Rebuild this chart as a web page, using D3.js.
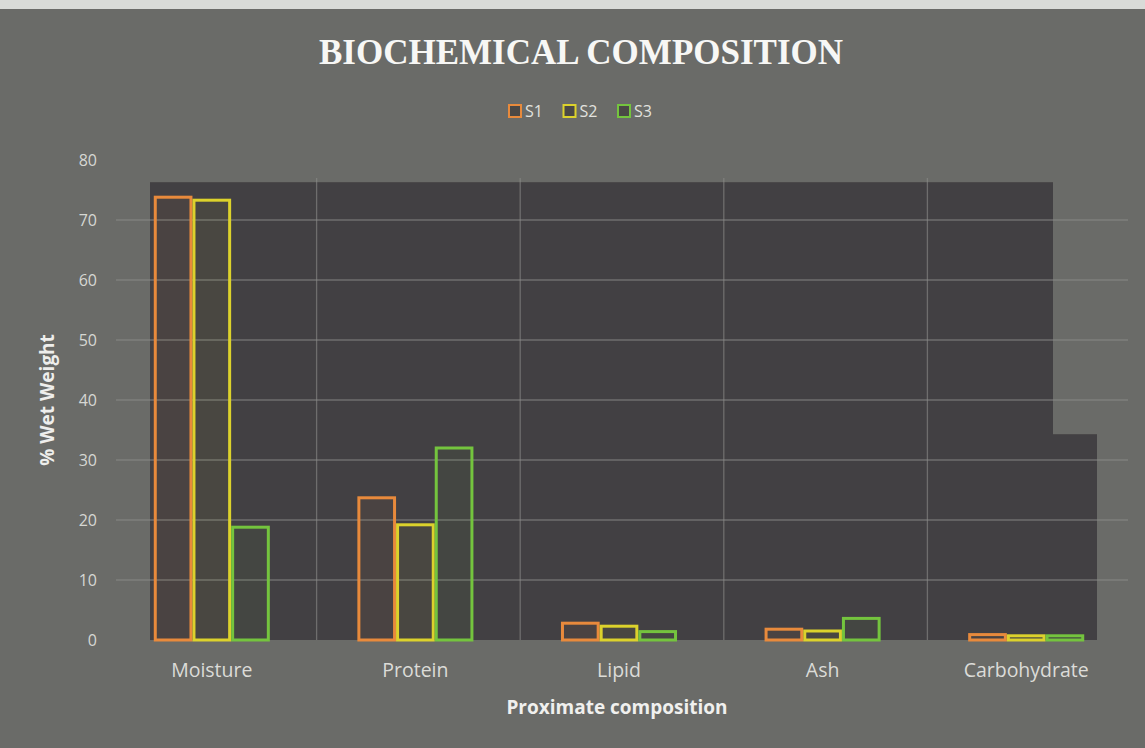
<!doctype html>
<html lang="en">
  <head>
    <meta charset="utf-8" />
    <title>Biochemical Composition</title>
    <style>
      body { margin: 0; background: #6a6b68; }
      svg { display: block; }
    </style>
  </head>
  <body>
    <div id="my_dataviz"></div>
    <script src="https://d3js.org/d3.v7.min.js"></script>
    <script>
// chart values
var categories = ["Moisture", "Protein", "Lipid", "Ash", "Carbohydrate"];
var seriesNames = ["S1", "S2", "S3"];
var s1 = [73.8, 23.7, 2.8, 1.8, 0.9];
var s2 = [73.3, 19.2, 2.3, 1.5, 0.7];
var s3 = [18.8, 32.0, 1.4, 3.6, 0.7];
var yTicks = [0, 10, 20, 30, 40, 50, 60, 70, 80];

var colors = ["#e88a3c", "#dcd22c", "#74c43e"];

var width = 1145, height = 748;
var margin = {top: 160, right: 17, bottom: 108, left: 110};

var svg = d3.select("#my_dataviz")
  .append("svg")
    .attr("width", width)
    .attr("height", height);

// paper background
svg.append("rect")
  .attr("width", width).attr("height", height)
  .attr("fill", "#6a6b68");
svg.append("rect")
  .attr("width", width).attr("height", 9)
  .attr("fill", "#d9dbd8");

// scales
var x0 = d3.scaleBand()
    .domain(categories)
    .range([margin.left, width - margin.right])
    .paddingInner(0.43)
    .paddingOuter(0.215);

var x1 = d3.scaleBand()
    .domain(seriesNames)
    .range([0, x0.bandwidth()])
    .padding(0.0);

var y = d3.scaleLinear()
    .domain([0, 80])
    .range([height - margin.bottom, margin.top]);

// dark plot panel (the photographed screen area)
var panel = svg.append("g");
panel.append("rect")
  .attr("x", 150)
  .attr("y", y(76.3))
  .attr("width", 1053 - 150)
  .attr("height", y(0) - y(76.3))
  .attr("fill", "#424043");
panel.append("rect")
  .attr("x", 1053)
  .attr("y", y(34.3))
  .attr("width", 1097 - 1053)
  .attr("height", y(0) - y(34.3))
  .attr("fill", "#424043");

// horizontal gridlines
svg.append("g")
  .selectAll("line")
  .data(yTicks.filter(function(d) { return d > 0 && d < 80; }))
  .enter()
  .append("line")
    .attr("x1", 116)
    .attr("x2", width - margin.right)
    .attr("y1", function(d) { return y(d); })
    .attr("y2", function(d) { return y(d); })
    .attr("stroke", "#8c8c8a")
    .attr("stroke-opacity", 0.6)
    .attr("stroke-width", 1.3);

// vertical gridlines between categories
svg.append("g")
  .selectAll("line")
  .data(categories.slice(1))
  .enter()
  .append("line")
    .attr("x1", function(d) { return x0(d) - x0.step() * x0.paddingInner() / 2 + 3; })
    .attr("x2", function(d) { return x0(d) - x0.step() * x0.paddingInner() / 2 + 3; })
    .attr("y1", y(77))
    .attr("y2", y(0))
    .attr("stroke", "#8c8c8a")
    .attr("stroke-opacity", 0.6)
    .attr("stroke-width", 1.3);

// bars
var rows = categories.map(function(c, i) {
  return {category: c, values: [s1[i], s2[i], s3[i]]};
});

var groups = svg.append("g")
  .selectAll("g")
  .data(rows)
  .enter()
  .append("g")
    .attr("transform", function(d) { return "translate(" + x0(d.category) + ",0)"; });

groups.selectAll("rect")
  .data(function(d) { return d.values.map(function(v, j) { return {name: seriesNames[j], value: v, k: j}; }); })
  .enter()
  .append("rect")
    .attr("x", function(d) { return x1(d.name) + 1.5; })
    .attr("y", function(d) { return y(d.value); })
    .attr("width", x1.bandwidth() - 3)
    .attr("height", function(d) { return y(0) - y(d.value); })
    .attr("fill", function(d) { return colors[d.k]; })
    .attr("fill-opacity", 0.05)
    .attr("stroke", function(d) { return colors[d.k]; })
    .attr("stroke-width", 3);

// y axis labels
svg.append("g")
  .selectAll("text")
  .data(yTicks)
  .enter()
  .append("text")
    .attr("x", 97)
    .attr("y", function(d) { return y(d); })
    .attr("dy", "0.35em")
    .attr("text-anchor", "end")
    .attr("fill", "#d6d7d3")
    .style("font-family", "'Open Sans', sans-serif")
    .style("font-size", "16px")
    .text(function(d) { return d; });

// x axis labels
svg.append("g")
  .selectAll("text")
  .data(categories)
  .enter()
  .append("text")
    .attr("x", function(d) { return x0(d) + x0.bandwidth() / 2; })
    .attr("y", 677)
    .attr("text-anchor", "middle")
    .attr("fill", "#dcdcd8")
    .style("font-family", "'Open Sans', sans-serif")
    .style("font-size", "19.5px")
    .text(function(d) { return d; });

// axis titles
svg.append("text")
  .attr("x", 617)
  .attr("y", 714)
  .attr("text-anchor", "middle")
  .attr("fill", "#f0f0ee")
  .style("font-family", "'Open Sans', sans-serif")
  .style("font-weight", "bold")
  .style("font-size", "19px")
  .text("Proximate composition");

svg.append("text")
  .attr("transform", "translate(54,400) rotate(-90)")
  .attr("text-anchor", "middle")
  .attr("fill", "#eeeeec")
  .style("font-family", "'Open Sans', sans-serif")
  .style("font-weight", "bold")
  .style("font-size", "19px")
  .text("% Wet Weight");

// title
svg.append("text")
  .attr("x", 581)
  .attr("y", 64)
  .attr("text-anchor", "middle")
  .attr("fill", "#f7f7f5")
  .style("font-family", "'Liberation Serif', serif")
  .style("font-weight", "bold")
  .style("font-size", "35px")
  .text("BIOCHEMICAL COMPOSITION");

// legend
var legend = svg.append("g")
  .selectAll("g")
  .data(seriesNames)
  .enter()
  .append("g")
    .attr("transform", function(d, i) { return "translate(" + (515 + i * 54.5) + ",111)"; });

legend.append("rect")
  .attr("x", -6).attr("y", -6)
  .attr("width", 12).attr("height", 12)
  .attr("fill", "#4a4846")
  .attr("stroke", function(d, i) { return colors[i]; })
  .attr("stroke-width", 2);

legend.append("text")
  .attr("x", 10)
  .attr("dy", "0.35em")
  .attr("fill", "#e2e2df")
  .style("font-family", "'Open Sans', sans-serif")
  .style("font-size", "16px")
  .text(function(d) { return d; });
    </script>
  </body>
</html>
